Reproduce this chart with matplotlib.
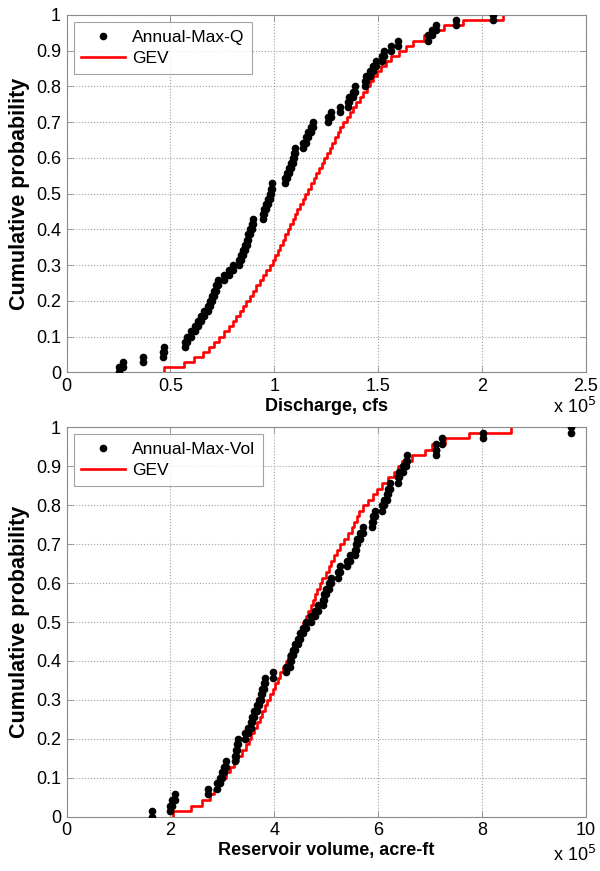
import matplotlib

matplotlib.use("Agg")
import matplotlib.pyplot as plt
import numpy as np

plt.rcParams["font.family"] = ["Liberation Sans", "DejaVu Sans"]

# annual maximum discharge (x 1e5 cfs), sorted
q_obs = [0.25, 0.27, 0.37, 0.465, 0.47, 0.57, 0.58, 0.60, 0.62, 0.635,
         0.645, 0.66, 0.68, 0.69, 0.70, 0.71, 0.72, 0.73, 0.76, 0.78,
         0.80, 0.83, 0.84, 0.85, 0.86, 0.87, 0.875, 0.885, 0.895, 0.90,
         0.945, 0.95, 0.96, 0.97, 0.98, 0.985, 0.99, 1.05, 1.06, 1.07,
         1.08, 1.09, 1.095, 1.10, 1.14, 1.155, 1.165, 1.175, 1.185, 1.26,
         1.275, 1.315, 1.355, 1.36, 1.38, 1.39, 1.435, 1.44, 1.46, 1.475,
         1.49, 1.52, 1.53, 1.565, 1.595, 1.74, 1.76, 1.78, 1.875, 2.055]

# GEV fitted values for the discharge series
q_gev = [0.47, 0.565, 0.615, 0.655, 0.685, 0.71, 0.735, 0.76, 0.78, 0.80,
         0.817, 0.833, 0.85, 0.866, 0.882, 0.898, 0.914, 0.93, 0.946, 0.962,
         0.978, 0.994, 1.006, 1.018, 1.03, 1.042, 1.054, 1.066, 1.078, 1.09,
         1.101, 1.112, 1.123, 1.137, 1.15, 1.163, 1.176, 1.19, 1.203, 1.216,
         1.229, 1.242, 1.255, 1.268, 1.28, 1.293, 1.306, 1.319, 1.333, 1.35,
         1.365, 1.38, 1.395, 1.413, 1.43, 1.445, 1.46, 1.478, 1.495, 1.515,
         1.54, 1.565, 1.60, 1.635, 1.67, 1.72, 1.77, 1.82, 1.91, 2.10]

# annual maximum reservoir volume (x 1e5 acre-ft), sorted
v_obs = [1.64, 2.0, 2.03, 2.08, 2.73, 2.89, 2.95, 3.0, 3.04, 3.08,
         3.24, 3.27, 3.29, 3.31, 3.44, 3.5, 3.55, 3.58, 3.62, 3.66,
         3.7, 3.74, 3.77, 3.8, 3.82, 3.98, 4.23, 4.3, 4.33, 4.37,
         4.4, 4.45, 4.5, 4.56, 4.62, 4.7, 4.78, 4.85, 4.94, 4.96,
         5.0, 5.05, 5.1, 5.22, 5.27, 5.41, 5.46, 5.55, 5.57, 5.6,
         5.66, 5.72, 5.88, 5.9, 5.94, 6.07, 6.12, 6.17, 6.2, 6.23,
         6.38, 6.4, 6.48, 6.53, 6.56, 7.12, 7.12, 7.23, 8.02, 9.72]

# GEV fitted values for the volume series
v_gev = [2.05, 2.39, 2.6, 2.76, 2.84, 2.91, 2.99, 3.07, 3.15, 3.23,
         3.31, 3.38, 3.46, 3.51, 3.56, 3.62, 3.67, 3.72, 3.77, 3.82,
         3.87, 3.92, 3.97, 4.02, 4.07, 4.12, 4.17, 4.22, 4.27, 4.32,
         4.37, 4.42, 4.47, 4.52, 4.56, 4.61, 4.65, 4.7, 4.74, 4.79,
         4.83, 4.88, 4.93, 4.99, 5.05, 5.1, 5.16, 5.21, 5.27, 5.34,
         5.42, 5.49, 5.54, 5.59, 5.64, 5.72, 5.81, 5.9, 5.98, 6.08,
         6.2, 6.31, 6.39, 6.47, 6.65, 6.9, 7.05, 7.3, 7.76, 8.57]

PANELS = [
    (q_obs, q_gev, "Annual-Max-Q", "Discharge, cfs", 2.5, 0.5),
    (v_obs, v_gev, "Annual-Max-Vol", "Reservoir volume, acre-ft", 10, 2),
]


def ecdf_points(x):
    # both corners of each ECDF step, as stairs() would give them
    x = np.asarray(x)
    n = len(x)
    lo = np.arange(n) / n
    hi = np.arange(1, n + 1) / n
    return np.concatenate([x, x]), np.concatenate([lo, hi])


fig = plt.figure(figsize=(6, 8.71), dpi=100)
rects = [[0.111, 0.5726, 0.865, 0.4102], [0.111, 0.0623, 0.865, 0.4471]]
GRAY = "#8c8c8c"

for rect, (obs, gev, name, xlabel, xmax, xstep) in zip(rects, PANELS):
    ax = fig.add_axes(rect)
    px, py = ecdf_points(obs)
    ax.plot(px, py, "o", color="black", markersize=4.5, mec="black",
            label=name, zorder=3)
    n = len(gev)
    sx = np.concatenate([[gev[0]], gev])
    sy = np.concatenate([[0.0], np.arange(1, n + 1) / n])
    ax.step(sx, sy, where="post", color="red", linewidth=1.9, label="GEV",
            zorder=2)

    ax.set_xlim(0, xmax)
    ax.set_ylim(0, 1)
    xt = np.arange(0, xmax + xstep / 2, xstep)
    ax.set_xticks(xt)
    ax.set_xticklabels([f"{t:g}" for t in xt])
    yt = np.arange(0, 1.01, 0.1)
    ax.set_yticks(yt)
    ax.set_yticklabels([f"{t:g}" for t in yt])
    ax.tick_params(direction="in", length=4, width=0.6, top=True, right=True,
                   color=GRAY, labelsize=13, pad=4)
    ax.grid(True, linestyle=":", color="#a0a0a0", linewidth=0.8)
    ax.set_axisbelow(True)
    for s in ax.spines.values():
        s.set_color(GRAY)
        s.set_linewidth(0.8)
    ax.set_xlabel(xlabel, fontsize=13, fontweight="bold", labelpad=2)
    ax.set_ylabel("Cumulative probability", fontsize=15.5, fontweight="bold",
                  labelpad=4)
    leg = ax.legend(loc="upper left", fontsize=12.5, frameon=True,
                    fancybox=False, edgecolor=GRAY, handlelength=2.5,
                    handletextpad=0.4, borderpad=0.45, labelspacing=0.35,
                    borderaxespad=0.4, markerscale=1.0)
    leg.get_frame().set_linewidth(0.8)

fig.text(0.922, 0.526, "x 10$^5$", fontsize=13)
fig.text(0.922, 0.011, "x 10$^5$", fontsize=13)

fig.savefig("out.png", dpi=100)
